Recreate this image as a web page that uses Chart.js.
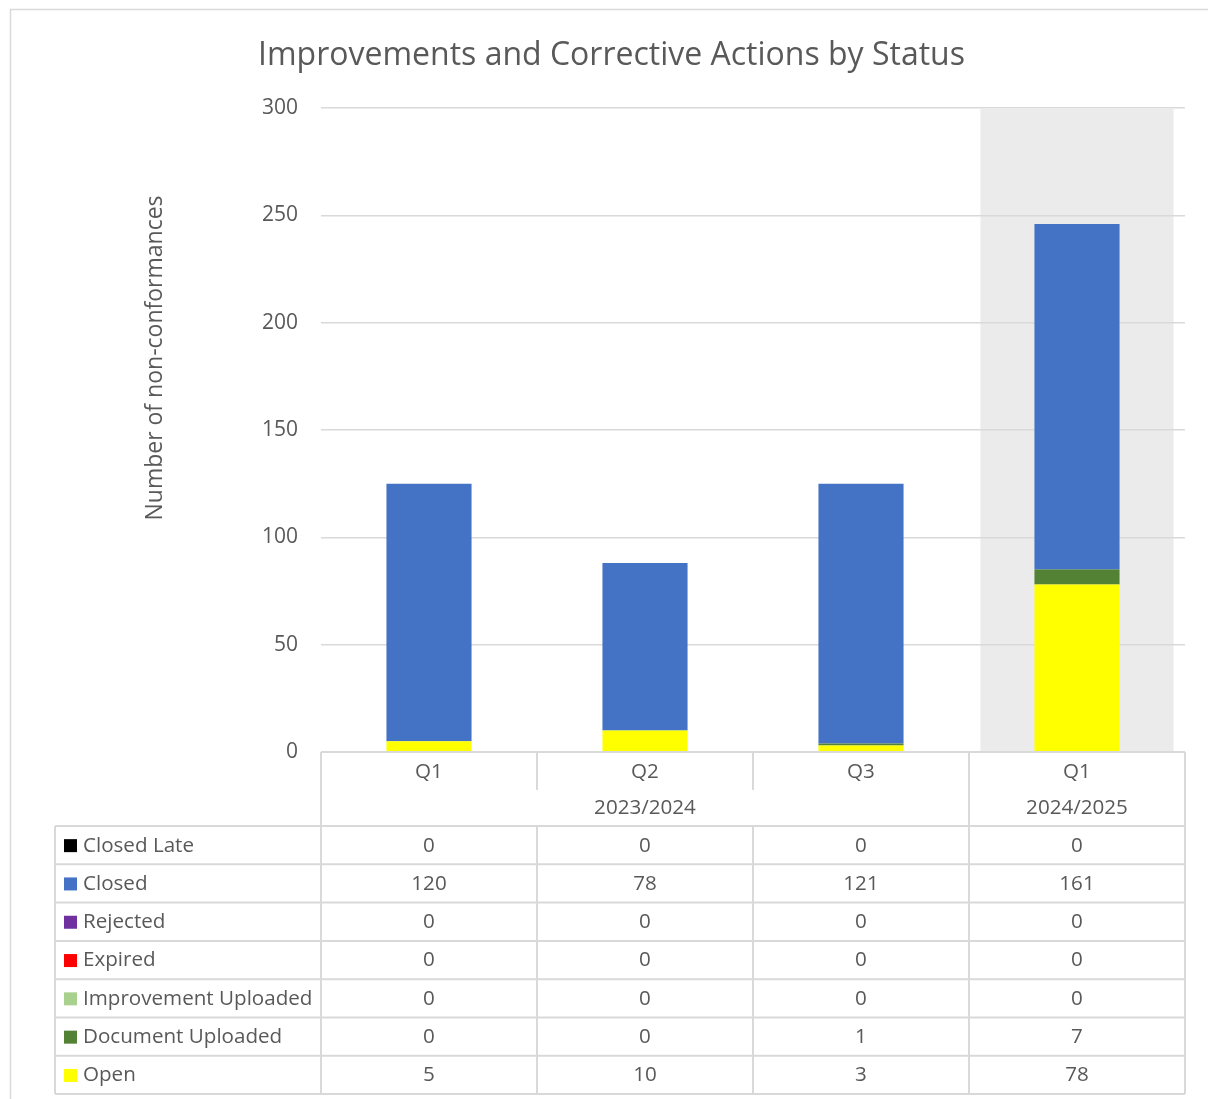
<!DOCTYPE html>
<html><head><meta charset="utf-8">
<script src="https://cdn.jsdelivr.net/npm/chart.js@4/dist/chart.umd.min.js"></script>
<style>html,body{margin:0;padding:0;background:#fff}#wrap{width:1208px;height:1099px;position:relative}</style>
</head><body><div id="wrap"><canvas id="c" width="1208" height="1099"></canvas></div>
<script>
const chartTitle = 'Improvements and Corrective Actions by Status';
const yAxisTitle = 'Number of non-conformances';
const quarters = ['Q1', 'Q2', 'Q3', 'Q1'];
const periods = ['2023/2024', '2023/2024', '2023/2024', '2024/2025'];
const seriesNames = ['Closed Late', 'Closed', 'Rejected', 'Expired', 'Improvement Uploaded', 'Document Uploaded', 'Open'];
const seriesColors = ['#000000', '#4472C4', '#7030A0', '#FF0000', '#A9D18E', '#548235', '#FFFF00'];
const closedLate = [0, 0, 0, 0];
const closed = [120, 78, 121, 161];
const rejected = [0, 0, 0, 0];
const expired = [0, 0, 0, 0];
const improvementUploaded = [0, 0, 0, 0];
const documentUploaded = [0, 0, 1, 7];
const open = [5, 10, 3, 78];
const yMax = 300;
const yStep = 50;
const highlightedCategory = 3;

const seriesValues = [closedLate, closed, rejected, expired, improvementUploaded, documentUploaded, open];
const TEXT = '#595959';
const LINE = '#d9d9d9';
const FONT = '"Open Sans", "Noto Sans", sans-serif';

// stacking: last table row (Open) sits at the bottom
const datasets = seriesNames.map((name, i) => ({
  label: name,
  data: seriesValues[i],
  backgroundColor: seriesColors[i],
  borderWidth: 0,
  barPercentage: 0.394,
  categoryPercentage: 1.0
})).reverse();

const decor = {
  id: 'decor',
  beforeDraw(chart) {
    const ctx = chart.ctx, a = chart.chartArea, x = chart.scales.x;
    ctx.save();
    ctx.fillStyle = '#fff';
    ctx.fillRect(0, 0, chart.width, chart.height);
    ctx.strokeStyle = LINE;
    ctx.lineWidth = 1.5;
    ctx.strokeRect(10.5, 9.5, chart.width + 20, chart.height + 20);
    const cw = (a.right - a.left) / quarters.length;
    const cx = x.getPixelForValue(highlightedCategory);
    ctx.fillStyle = '#ebebeb';
    ctx.fillRect(cx - cw * 0.447, a.top + 1, cw * 0.894, a.bottom - a.top - 1);
    ctx.restore();
  },
  afterDraw(chart) {
    const ctx = chart.ctx, a = chart.chartArea, x = chart.scales.x;
    const n = quarters.length;
    const cw = (a.right - a.left) / n;
    const bounds = [];
    for (let i = 0; i <= n; i++) bounds.push(a.left + i * cw);
    ctx.save();
    // y-axis title
    ctx.fillStyle = TEXT;
    ctx.font = '23px ' + FONT;
    ctx.textAlign = 'center';
    ctx.textBaseline = 'middle';
    ctx.translate(155, 358);
    ctx.rotate(-Math.PI / 2);
    ctx.fillText(yAxisTitle, 0, 0);
    ctx.setTransform(1, 0, 0, 1, 0, 0);

    const top = a.bottom;
    const h1 = 38, h2 = 36, rh = 38.3;
    const leftX = 55;
    const dataTop = top + h1 + h2;
    ctx.strokeStyle = LINE;
    ctx.lineWidth = 2;
    const line = (x1, y1, x2, y2) => { ctx.beginPath(); ctx.moveTo(x1, y1); ctx.lineTo(x2, y2); ctx.stroke(); };
    // header
    line(a.left, top, a.right, top);
    bounds.forEach(b => line(b, top, b, top + h1));
    // group boundaries
    const groups = [];
    periods.forEach((p, i) => {
      if (!groups.length || groups[groups.length - 1].label !== p) groups.push({ label: p, start: i, end: i });
      else groups[groups.length - 1].end = i;
    });
    groups.forEach(g => {
      line(bounds[g.start], top + h1, bounds[g.start], dataTop);
    });
    line(a.right, top + h1, a.right, dataTop);
    // data area
    line(leftX, dataTop, a.right, dataTop);
    for (let r = 0; r < seriesNames.length; r++) {
      const y2 = dataTop + (r + 1) * rh;
      line(leftX, y2, a.right, y2);
    }
    const dataBottom = dataTop + seriesNames.length * rh;
    line(leftX, dataTop, leftX, dataBottom);
    bounds.forEach(b => line(b, dataTop, b, dataBottom));

    ctx.fillStyle = TEXT;
    ctx.font = '20.6px ' + FONT;
    ctx.textAlign = 'center';
    ctx.textBaseline = 'middle';
    quarters.forEach((q, i) => ctx.fillText(q, x.getPixelForValue(i), top + 20));
    groups.forEach(g => ctx.fillText(g.label, (bounds[g.start] + bounds[g.end + 1]) / 2, top + h1 + h2 / 2));
    seriesNames.forEach((name, r) => {
      const cy = dataTop + r * rh + rh / 2 + 0.5;
      ctx.fillStyle = seriesColors[r];
      ctx.fillRect(64, cy - 6.5, 13, 13);
      ctx.fillStyle = TEXT;
      ctx.textAlign = 'left';
      ctx.fillText(name, 83, cy);
      ctx.textAlign = 'center';
      seriesValues[r].forEach((v, i) => ctx.fillText(String(v), x.getPixelForValue(i), cy));
    });
    ctx.restore();
  }
};

new Chart(document.getElementById('c'), {
  type: 'bar',
  data: { labels: quarters, datasets },
  options: {
    responsive: false,
    animation: false,
    layout: { padding: { left: 38, right: 23, top: 0, bottom: 347 } },
    plugins: {
      legend: { display: false },
      tooltip: { enabled: false },
      title: {
        display: true,
        text: chartTitle,
        color: TEXT,
        font: { family: FONT, size: 32, weight: 'normal' },
        padding: { top: 37, bottom: 32.6 }
      }
    },
    scales: {
      x: { display: false, stacked: true },
      y: {
        stacked: true,
        min: 0, max: yMax,
        afterFit(s) { s.width = 283; },
        border: { display: false },
        grid: { color: LINE, lineWidth: 1.5, drawTicks: false },
        ticks: { stepSize: yStep, padding: 23, color: TEXT, font: { family: FONT, size: 21 } }
      }
    }
  },
  plugins: [decor]
});
</script></body></html>
